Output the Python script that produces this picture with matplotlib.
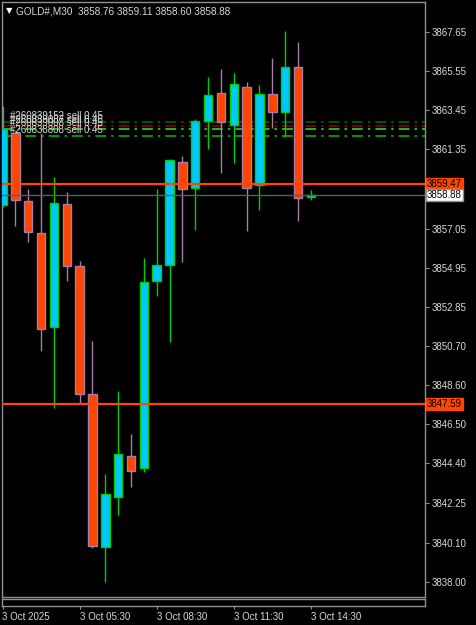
import matplotlib
matplotlib.use("Agg")
import matplotlib.pyplot as plt

# M30 candles, GOLD#
opens = [3858.32, 3862.21, 3858.54, 3856.81, 3851.75, 3858.38, 3855.04, 3848.14,
         3839.89, 3842.58, 3844.79, 3844.15, 3854.23, 3855.09, 3860.64, 3859.24,
         3862.85, 3864.36, 3862.64, 3864.69, 3859.40, 3864.31, 3863.34, 3865.76,
         3858.76]
highs = [3863.66, 3862.30, 3859.19, 3862.21, 3859.83, 3859.02, 3855.30, 3850.99,
         3843.82, 3848.30, 3845.98, 3855.47, 3859.19, 3860.78, 3860.97, 3862.96,
         3865.22, 3865.66, 3865.44, 3864.95, 3864.79, 3866.25, 3867.70, 3867.11,
         3859.11]
lows = [3858.22, 3857.19, 3856.33, 3850.45, 3847.38, 3854.23, 3847.60, 3839.83,
        3838.00, 3841.61, 3843.12, 3843.93, 3853.42, 3850.94, 3855.25, 3856.98,
        3861.34, 3860.05, 3860.59, 3856.92, 3858.05, 3862.47, 3861.99, 3857.46,
        3858.60]
closes = [3862.42, 3858.59, 3856.87, 3851.64, 3858.43, 3855.04, 3848.14, 3839.94,
          3842.74, 3844.90, 3843.98, 3854.17, 3855.09, 3860.75, 3859.19, 3862.85,
          3864.25, 3862.80, 3864.85, 3859.24, 3864.31, 3863.34, 3865.76, 3858.70,
          3858.88]

# price scale labels
price_ticks = [3867.65, 3865.55, 3863.45, 3861.35, 3857.05, 3854.95, 3852.85,
               3850.70, 3848.60, 3846.50, 3844.40, 3842.25, 3840.10, 3838.00]

# time scale labels (every 6th bar)
time_ticks = [0, 6, 12, 18, 24]
time_labels = ["3 Oct 2025", "3 Oct 05:30", "3 Oct 08:30", "3 Oct 11:30", "3 Oct 14:30"]

# horizontal levels
level_prices = [3859.47, 3847.59]
last_price = 3858.88

# open orders
order_ids = ["#260839152", "#260839087", "#260839008", "#260838808"]
order_prices = [3862.80, 3862.58, 3862.42, 3862.04]
order_colors = ["#006400", "#8b0000", "#32cd32", "#00b400"]

BG = "black"
FG = "#d8d8d8"
FRAME = "#909090"
BULL_FILL = "#00c8ff"
BULL_LINE = "#00d000"
BEAR_FILL = "#ff4500"
BEAR_LINE = "#a87ca8"
FONT = "Liberation Sans"

W, H = 476, 625
fig = plt.figure(figsize=(W / 100, H / 100), dpi=100, facecolor=BG)

# main chart area (pixel box 2..425 x 2..597)
bar_px = 12.85
xlim = ((2 - 2.5) / bar_px, (425 - 2.5) / bar_px)
ax = fig.add_axes([2 / W, (H - 597) / H, 423 / W, 595 / H], facecolor=BG)
ax.set_xlim(*xlim)
ax.set_ylim(3837.19, 3869.27)

# candles
for i in range(len(opens)):
    o, h, l, c = opens[i], highs[i], lows[i], closes[i]
    bull = c >= o
    line = BULL_LINE if bull else BEAR_LINE
    fill = BULL_FILL if bull else BEAR_FILL
    ax.vlines(i, l, h, color=line, lw=1.0, zorder=2)
    ax.bar(i, max(abs(c - o), 0.08), bottom=min(o, c), width=0.66,
           color=fill, edgecolor=line, linewidth=1.0, zorder=3)

# order lines and labels
ytrans = ax.get_yaxis_transform()
for oid, p, col in zip(order_ids, order_prices, order_colors):
    ax.axhline(p, color=col, lw=1.2, linestyle=(0, (6.5, 3, 1.5, 3)), zorder=1)
    ax.text(0.019, p + 0.08, oid + " sell 0.45", transform=ytrans, color=FG,
            fontsize=7, family=FONT, ha="left", va="bottom", zorder=4)

# price levels
for p in level_prices:
    ax.axhline(p, color="#ff4500", lw=1.6, zorder=4)
    ax.text(1.004, p, f"{p:.2f}", transform=ytrans, color="black", fontsize=7,
            family=FONT, ha="left", va="center", clip_on=False,
            bbox=dict(boxstyle="square,pad=0.12", fc="#ff4500", ec="#ff4500"))
ax.axhline(last_price, color="#5a5a66", lw=1.0, zorder=4)
ax.text(1.004, last_price, f"{last_price:.2f}", transform=ytrans, color="black",
        fontsize=7, family=FONT, ha="left", va="center", clip_on=False,
        bbox=dict(boxstyle="square,pad=0.12", fc="white", ec="#909090"))

# price axis on the right
ax.yaxis.tick_right()
ax.set_yticks(price_ticks)
ax.set_yticklabels([f"{p:.2f}" for p in price_ticks])
ax.tick_params(axis="y", colors=FRAME, length=3, width=0.8, pad=2,
               labelcolor=FG, labelsize=7)
for lab in ax.get_yticklabels():
    lab.set_family(FONT)
ax.set_xticks([])
for s in ax.spines.values():
    s.set_color(FRAME)
    s.set_linewidth(1.0)

# thin strip under the chart carrying the time scale
ax2 = fig.add_axes([2 / W, (H - 606) / H, 423 / W, 7 / H], facecolor=BG)
ax2.set_xlim(*xlim)
ax2.set_yticks([])
ax2.set_xticks(time_ticks)
ax2.set_xticklabels(time_labels)
ax2.tick_params(axis="x", colors=FRAME, length=2.5, width=0.8, pad=2,
                labelcolor=FG, labelsize=7)
for lab in ax2.get_xticklabels():
    lab.set_family(FONT)
    lab.set_horizontalalignment("left")
for s in ax2.spines.values():
    s.set_color(FRAME)
    s.set_linewidth(1.0)

# header
fig.text(6 / W, 1 - 11 / H, "\u25bc", color="white", fontsize=6, family="DejaVu Sans",
         va="center", ha="left")
last = len(opens) - 1
header = (f"GOLD#,M30  {opens[last]:.2f} {highs[last]:.2f} "
          f"{lows[last]:.2f} {closes[last]:.2f}")
fig.text(16 / W, 1 - 11 / H, header, color=FG, fontsize=7.2, family=FONT,
         va="center", ha="left")

fig.savefig("out.png", dpi=100, facecolor=BG)
